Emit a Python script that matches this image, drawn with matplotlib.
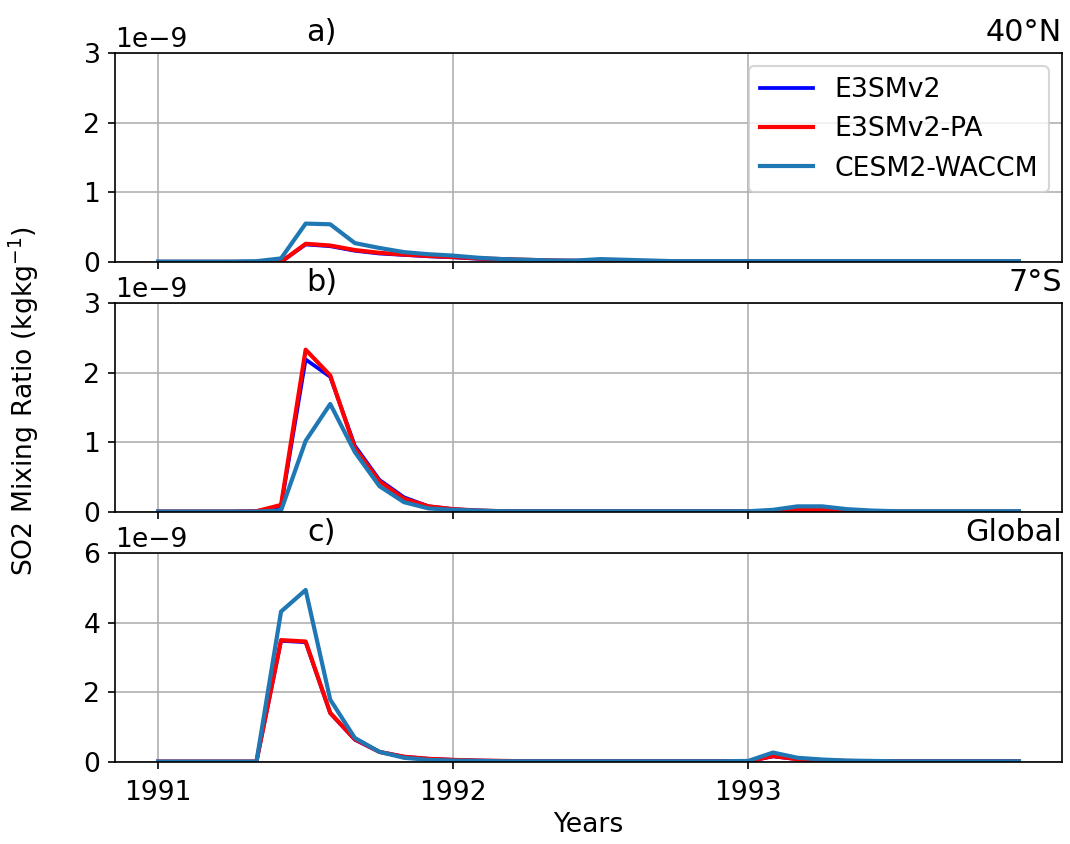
import numpy as np
import matplotlib
matplotlib.use('Agg')
import matplotlib.pyplot as plt

plt.rcParams['font.size'] = 12.8

# Monthly time axis, Jan 1991 - Dec 1993
years = 1991 + np.arange(36) / 12.0

# SO2 mixing ratio (units of 1e-9 kg/kg)
# a) 40N
e3sm_40n = [0, 0, 0, 0, 0, 0, 0.25, 0.225, 0.16, 0.12, 0.10, 0.08, 0.065, 0.045, 0.035, 0.025,
            0.018, 0.013, 0.01, 0.008, 0.006, 0.005, 0.004, 0.004, 0.003, 0.003, 0.003, 0.003,
            0.003, 0.003, 0.003, 0.003, 0.003, 0.003, 0.003, 0.003]
pa_40n = [0, 0, 0, 0, 0, 0, 0.26, 0.235, 0.17, 0.13, 0.105, 0.085, 0.07, 0.05, 0.04, 0.03,
          0.02, 0.015, 0.012, 0.01, 0.008, 0.006, 0.005, 0.005, 0.004, 0.004, 0.004, 0.004,
          0.004, 0.004, 0.004, 0.004, 0.004, 0.004, 0.004, 0.004]
cesm_40n = [0.005, 0.005, 0.005, 0.005, 0.01, 0.05, 0.55, 0.54, 0.27, 0.2, 0.14, 0.11, 0.09,
            0.06, 0.04, 0.03, 0.02, 0.02, 0.04, 0.03, 0.02, 0.01, 0.01, 0.01, 0.01, 0.01,
            0.01, 0.01, 0.01, 0.01, 0.01, 0.01, 0.01, 0.01, 0.01, 0.01]

# b) 7S
e3sm_7s = [0.005, 0.005, 0.005, 0.005, 0.01, 0.08, 2.19, 1.94, 0.95, 0.46, 0.21, 0.08, 0.04,
           0.02, 0.01, 0.01, 0.01, 0.01, 0.01, 0.01, 0.01, 0.01, 0.01, 0.01, 0.01, 0.01,
           0.03, 0.03, 0.01, 0.01, 0.005, 0.005, 0.005, 0.005, 0.005, 0.005]
pa_7s = [0.005, 0.005, 0.005, 0.005, 0.01, 0.1, 2.33, 1.96, 0.92, 0.44, 0.19, 0.08, 0.04,
         0.02, 0.01, 0.01, 0.01, 0.01, 0.01, 0.01, 0.01, 0.01, 0.01, 0.01, 0.01, 0.01,
         0.03, 0.03, 0.01, 0.01, 0.005, 0.005, 0.005, 0.005, 0.005, 0.005]
cesm_7s = [0.005, 0.005, 0.005, 0.005, 0.005, 0.02, 1.02, 1.55, 0.86, 0.37, 0.14, 0.05, 0.03,
           0.02, 0.01, 0.01, 0.01, 0.01, 0.01, 0.01, 0.01, 0.01, 0.01, 0.01, 0.01, 0.03,
           0.08, 0.08, 0.04, 0.02, 0.01, 0.01, 0.01, 0.01, 0.01, 0.01]

# c) Global
e3sm_gl = [0.01, 0.01, 0.01, 0.01, 0.01, 3.48, 3.44, 1.40, 0.64, 0.29, 0.15, 0.09, 0.06,
           0.04, 0.03, 0.02, 0.02, 0.02, 0.02, 0.02, 0.02, 0.02, 0.02, 0.02, 0.02, 0.16,
           0.08, 0.04, 0.03, 0.02, 0.02, 0.02, 0.02, 0.02, 0.02, 0.02]
pa_gl = [0.01, 0.01, 0.01, 0.01, 0.01, 3.5, 3.46, 1.41, 0.65, 0.29, 0.15, 0.09, 0.06,
         0.04, 0.03, 0.02, 0.02, 0.02, 0.02, 0.02, 0.02, 0.02, 0.02, 0.02, 0.02, 0.17,
         0.08, 0.04, 0.03, 0.02, 0.02, 0.02, 0.02, 0.02, 0.02, 0.02]
cesm_gl = [0.01, 0.01, 0.01, 0.01, 0.01, 4.32, 4.94, 1.79, 0.69, 0.29, 0.12, 0.06, 0.04,
           0.03, 0.02, 0.02, 0.02, 0.02, 0.02, 0.02, 0.02, 0.02, 0.02, 0.02, 0.03, 0.27,
           0.12, 0.07, 0.04, 0.03, 0.02, 0.02, 0.02, 0.02, 0.02, 0.02]

panels = [
    ('a)', '40°N', e3sm_40n, pa_40n, cesm_40n, 3),
    ('b)', '7°S', e3sm_7s, pa_7s, cesm_7s, 3),
    ('c)', 'Global', e3sm_gl, pa_gl, cesm_gl, 6),
]

fig, axes = plt.subplots(3, 1, sharex=True, figsize=(1070 / 150, 844 / 150), dpi=150)
fig.subplots_adjust(left=0.1075, right=0.9925, bottom=0.0972, top=0.9372, hspace=0.197)

for ax, (lab, region, e3, pa, ce, ymax) in zip(axes, panels):
    ax.plot(years, np.array(e3) * 1e-9, color='blue', lw=1.8, label='E3SMv2')
    ax.plot(years, np.array(pa) * 1e-9, color='red', lw=2, label='E3SMv2-PA')
    ax.plot(years, np.array(ce) * 1e-9, color='tab:blue', lw=2, label='CESM2-WACCM')
    ax.set_ylim(0, ymax * 1e-9)
    ax.grid(True)
    ax.set_title(lab, x=0.218, fontsize=14.5)
    ax.set_title(region, loc='right', fontsize=14.5)

axes[0].set_yticks(np.array([0, 1, 2, 3]) * 1e-9)
axes[1].set_yticks(np.array([0, 1, 2, 3]) * 1e-9)
axes[2].set_yticks(np.array([0, 2, 4, 6]) * 1e-9)
axes[2].set_xticks([1991, 1992, 1993])
axes[2].set_xticklabels(['1991', '1992', '1993'])
axes[2].tick_params(axis='x', pad=5)
axes[2].set_xlabel('Years', labelpad=3)
axes[0].legend(loc='upper right')

fig.text(0.022, 0.525, 'SO2 Mixing Ratio (kgkg$^{-1}$)', rotation=90, va='center', ha='center')

fig.savefig('out.png', dpi=150)
